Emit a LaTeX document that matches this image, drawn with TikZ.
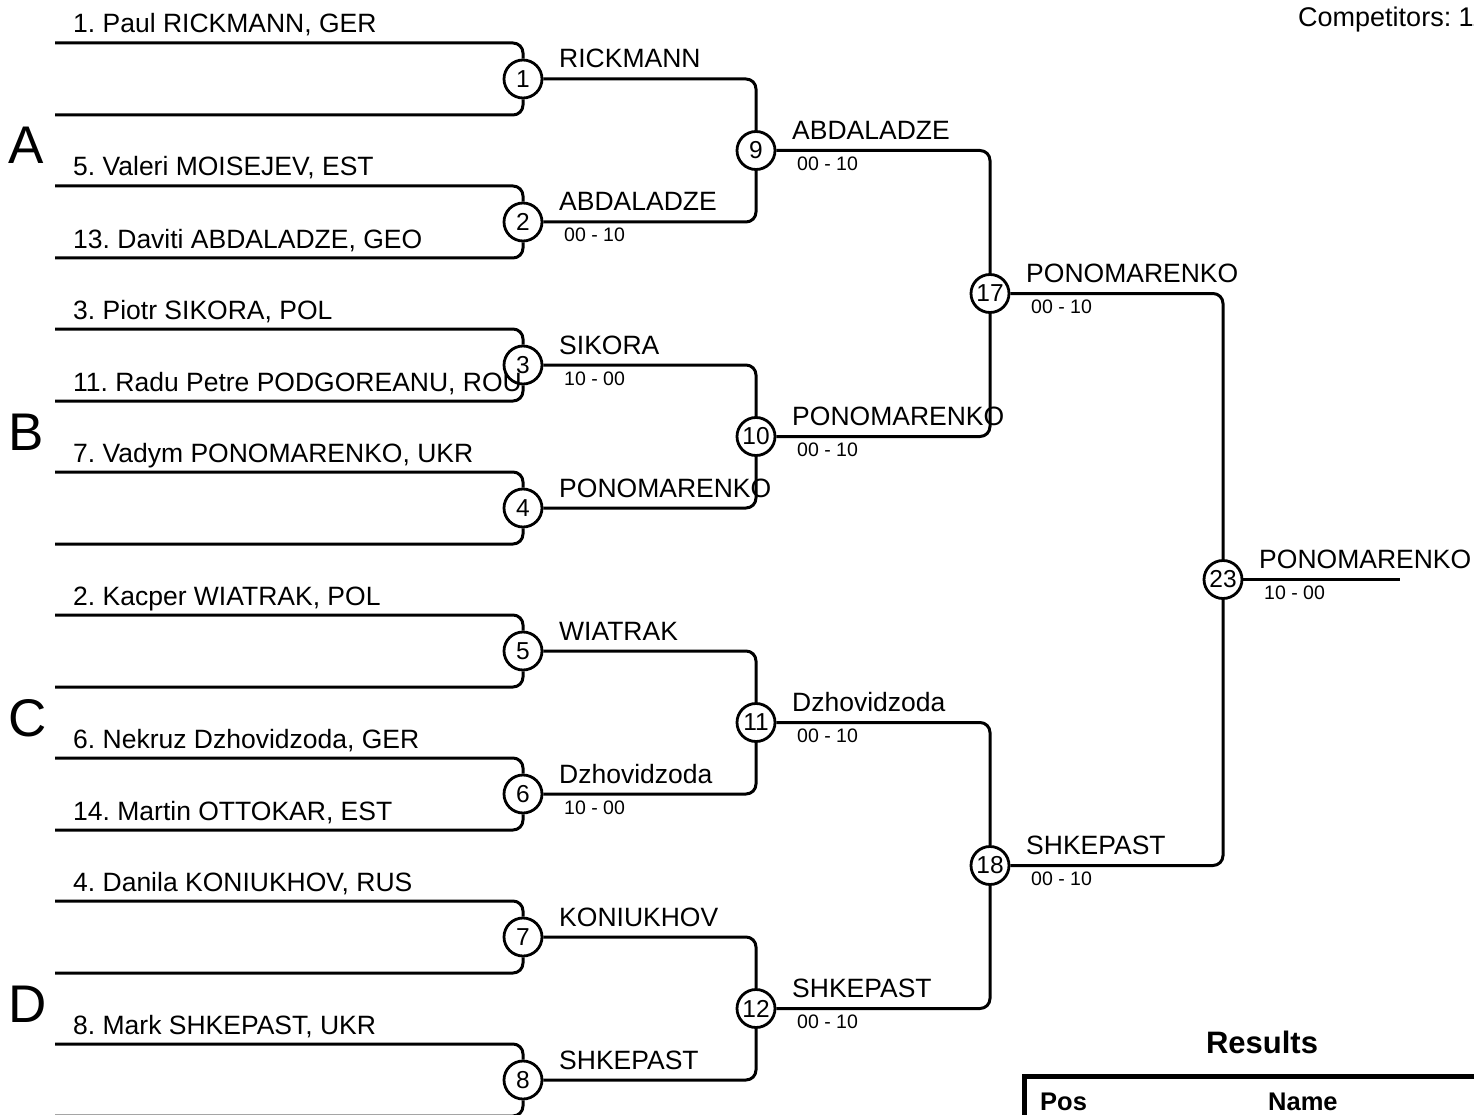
\documentclass[tikz,border=0pt]{standalone}
\usepackage{fontspec}
\setmainfont{Liberation Sans}
\frenchspacing
\begin{document}
\begin{tikzpicture}[x=1pt,y=-1pt,
  conn/.style={line width=3pt, rounded corners=10pt},
  mc/.style={circle, draw, line width=2.8pt, minimum size=38pt, inner sep=0pt, font=\fontsize{24.5}{25}\selectfont},
  nm/.style={anchor=base west, inner sep=0pt, font=\fontsize{26.5}{30}\selectfont},
  sc/.style={anchor=base west, inner sep=0pt, font=\fontsize{19.5}{22}\selectfont},
  grp/.style={anchor=base west, inner sep=0pt, font=\fontsize{53}{60}\selectfont},
  hd/.style={anchor=base west, inner sep=0pt, font=\bfseries\fontsize{25.5}{30}\selectfont}]
\useasboundingbox (0,0) rectangle (1474,1115);
\clip (0,0) rectangle (1474,1115);

% header
\node[anchor=base west, inner sep=0pt, font=\fontsize{27}{30}\selectfont] (comp) at (1298,27) {Competitors: 11};

% group letters
\node[grp] (gA) at (8,164) {A};
\node[grp] (gB) at (8,450) {B};
\node[grp] (gC) at (8,736) {C};
\node[grp] (gD) at (8,1022) {D};

% match circles
\node[mc] (m1) at (523,79) {1};
\node[mc] (m2) at (523,222) {2};
\node[mc] (m3) at (523,365) {3};
\node[mc] (m4) at (523,508) {4};
\node[mc] (m5) at (523,651) {5};
\node[mc] (m6) at (523,794) {6};
\node[mc] (m7) at (523,937) {7};
\node[mc] (m8) at (523,1080) {8};
\node[mc] (m9) at (756,150.5) {9};
\node[mc] (m10) at (756,436.5) {10};
\node[mc] (m11) at (756,722.5) {11};
\node[mc] (m12) at (756,1008.5) {12};
\node[mc] (m17) at (990,293.5) {17};
\node[mc] (m18) at (990,865.5) {18};
\node[mc] (m23) at (1223,579.5) {23};

% player line starts
\coordinate (p1a) at (55,43);   \coordinate (p1b) at (55,115);
\coordinate (p2a) at (55,186);  \coordinate (p2b) at (55,258);
\coordinate (p3a) at (55,329);  \coordinate (p3b) at (55,401);
\coordinate (p4a) at (55,472);  \coordinate (p4b) at (55,544);
\coordinate (p5a) at (55,615);  \coordinate (p5b) at (55,687);
\coordinate (p6a) at (55,758);  \coordinate (p6b) at (55,830);
\coordinate (p7a) at (55,901);  \coordinate (p7b) at (55,973);
\coordinate (p8a) at (55,1044); \coordinate (p8b) at (55,1116);
\coordinate (fend) at (1400,579.5);

% round 1 connectors
\foreach \m in {1,...,8}{
  \draw[conn] (p\m a) -| (m\m.north);
  \draw[conn] (p\m b) -| (m\m.south);
}
% round 2
\draw[conn] (m1.east) -| (m9.north);
\draw[conn] (m2.east) -| (m9.south);
\draw[conn] (m3.east) -| (m10.north);
\draw[conn] (m4.east) -| (m10.south);
\draw[conn] (m5.east) -| (m11.north);
\draw[conn] (m6.east) -| (m11.south);
\draw[conn] (m7.east) -| (m12.north);
\draw[conn] (m8.east) -| (m12.south);
% round 3
\draw[conn] (m9.east) -| (m17.north);
\draw[conn] (m10.east) -| (m17.south);
\draw[conn] (m11.east) -| (m18.north);
\draw[conn] (m12.east) -| (m18.south);
% final
\draw[conn] (m17.east) -| (m23.north);
\draw[conn] (m18.east) -| (m23.south);
\draw[conn] (m23.east) -- (fend);

% player names
\node[nm] (n1) at (73,33) {1. Paul RICKMANN, GER};
\node[nm] (n5) at (73,176) {5. Valeri MOISEJEV, EST};
\node[nm] (n13) at (73,248) {13. Daviti ABDALADZE, GEO};
\node[nm] (n3) at (73,319) {3. Piotr SIKORA, POL};
\node[nm] (n11) at (73,391) {11. Radu Petre PODGOREANU, ROU};
\node[nm] (n7) at (73,462) {7. Vadym PONOMARENKO, UKR};
\node[nm] (n2) at (73,605) {2. Kacper WIATRAK, POL};
\node[nm] (n6) at (73,748) {6. Nekruz Dzhovidzoda, GER};
\node[nm] (n14) at (73,820) {14. Martin OTTOKAR, EST};
\node[nm] (n4) at (73,891) {4. Danila KONIUKHOV, RUS};
\node[nm] (n8) at (73,1034) {8. Mark SHKEPAST, UKR};

% round 1 winners
\node[nm] (w1) at (559,68) {RICKMANN};
\node[nm] (w2) at (559,211) {ABDALADZE};
\node[sc] (s2) at (564,242) {00 - 10};
\node[nm] (w3) at (559,354) {SIKORA};
\node[sc] (s3) at (564,385) {10 - 00};
\node[nm] (w4) at (559,497) {PONOMARENKO};
\node[nm] (w5) at (559,640) {WIATRAK};
\node[nm] (w6) at (559,783) {Dzhovidzoda};
\node[sc] (s6) at (564,814) {10 - 00};
\node[nm] (w7) at (559,926) {KONIUKHOV};
\node[nm] (w8) at (559,1069) {SHKEPAST};

% round 2 winners
\node[nm] (w9) at (792,139.5) {ABDALADZE};
\node[sc] (s9) at (797,170.5) {00 - 10};
\node[nm] (w10) at (792,425.5) {PONOMARENKO};
\node[sc] (s10) at (797,456.5) {00 - 10};
\node[nm] (w11) at (792,711.5) {Dzhovidzoda};
\node[sc] (s11) at (797,742.5) {00 - 10};
\node[nm] (w12) at (792,997.5) {SHKEPAST};
\node[sc] (s12) at (797,1028.5) {00 - 10};

% round 3 winners
\node[nm] (w17) at (1026,282.5) {PONOMARENKO};
\node[sc] (s17) at (1031,313.5) {00 - 10};
\node[nm] (w18) at (1026,854.5) {SHKEPAST};
\node[sc] (s18) at (1031,885.5) {00 - 10};

% final
\node[nm] (w23) at (1259,568.5) {PONOMARENKO};
\node[sc] (s23) at (1264,599.5) {10 - 00};

% results table
\node[anchor=base, inner sep=0pt, font=\bfseries\fontsize{31}{36}\selectfont] (res) at (1262,1053) {Results};
\draw[line width=5pt] (1024,1125) -- (1024,1076) -- (1480,1076);
\node[hd] (hpos) at (1040,1110) {Pos};
\node[hd] (hname) at (1268,1110) {Name};
\end{tikzpicture}
\end{document}
